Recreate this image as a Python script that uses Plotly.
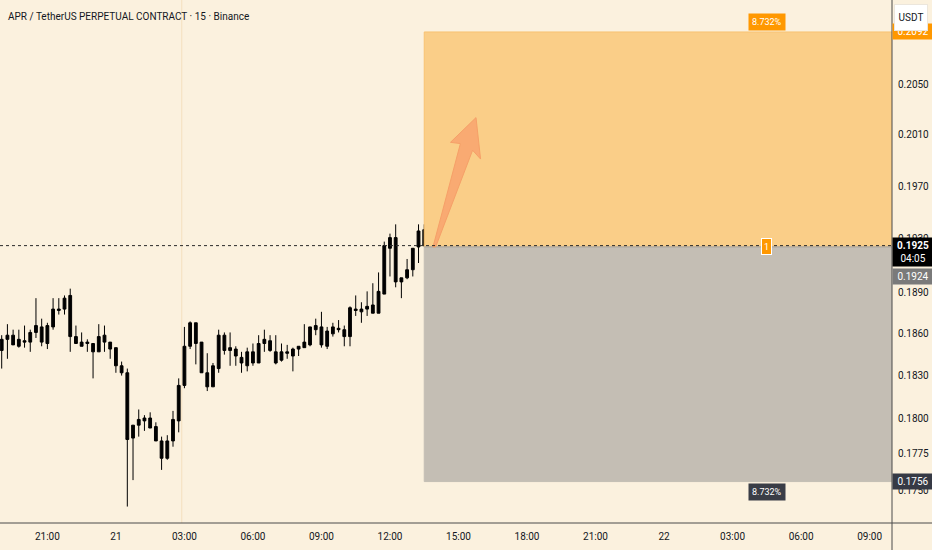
import numpy as np
import pandas as pd
import plotly.graph_objects as go

chart_title = "APR / TetherUS PERPETUAL CONTRACT · 15 · Binance"

# 15 minute candles, 20th 19:00 .. 21st 13:30
times = pd.date_range("2025-10-20 19:00", periods=75, freq="15min")
opens = [0.1848, 0.1856, 0.1859, 0.1851, 0.1855, 0.1854, 0.1861, 0.1865, 0.1853, 0.1865,
         0.1877, 0.1878, 0.1888, 0.1858, 0.1854, 0.1853, 0.1853, 0.1847, 0.1859, 0.1854,
         0.1850, 0.1837, 0.1832, 0.1786, 0.1795, 0.1798, 0.1800, 0.1794, 0.1784, 0.1772,
         0.1784, 0.1798, 0.1823, 0.1851, 0.1868, 0.1854, 0.1832, 0.1822, 0.1835, 0.1859,
         0.1848, 0.1849, 0.1843, 0.1837, 0.1847, 0.1839, 0.1853, 0.1855, 0.1847, 0.1841,
         0.1847, 0.1844, 0.1849, 0.1850, 0.1852, 0.1863, 0.1865, 0.1851, 0.1860, 0.1864,
         0.1863, 0.1858, 0.1878, 0.1876, 0.1878, 0.1881, 0.1875, 0.1889, 0.1923, 0.1931,
         0.1898, 0.1901, 0.1907, 0.1924, 0.1937]
highs = [0.1859, 0.1867, 0.1863, 0.1863, 0.1866, 0.1863, 0.1886, 0.1871, 0.1868, 0.1886,
         0.1886, 0.1888, 0.1893, 0.1866, 0.1861, 0.1856, 0.1853, 0.1867, 0.1866, 0.1854,
         0.1850, 0.1840, 0.1835, 0.1795, 0.1806, 0.1802, 0.1804, 0.1797, 0.1787, 0.1788,
         0.1805, 0.1828, 0.1865, 0.1869, 0.1868, 0.1854, 0.1846, 0.1839, 0.1863, 0.1861,
         0.1861, 0.1851, 0.1847, 0.1850, 0.1853, 0.1859, 0.1863, 0.1859, 0.1859, 0.1853,
         0.1852, 0.1850, 0.1851, 0.1867, 0.1865, 0.1871, 0.1876, 0.1865, 0.1868, 0.1870,
         0.1866, 0.1880, 0.1888, 0.1883, 0.1891, 0.1897, 0.1905, 0.1928, 0.1934, 0.1941,
         0.1901, 0.1915, 0.1923, 0.1941, 0.1941]
lows = [0.1835, 0.1842, 0.1852, 0.1850, 0.1850, 0.1847, 0.1857, 0.1851, 0.1849, 0.1863,
        0.1874, 0.1874, 0.1847, 0.1853, 0.1851, 0.1847, 0.1828, 0.1847, 0.1847, 0.1842,
        0.1832, 0.1830, 0.1739, 0.1757, 0.1787, 0.1791, 0.1793, 0.1784, 0.1764, 0.1771,
        0.1780, 0.1790, 0.1821, 0.1849, 0.1838, 0.1832, 0.1819, 0.1822, 0.1832, 0.1845,
        0.1837, 0.1837, 0.1832, 0.1833, 0.1837, 0.1839, 0.1847, 0.1847, 0.1838, 0.1840,
        0.1842, 0.1833, 0.1844, 0.1850, 0.1851, 0.1859, 0.1850, 0.1849, 0.1858, 0.1861,
        0.1851, 0.1851, 0.1873, 0.1868, 0.1873, 0.1875, 0.1875, 0.1889, 0.1902, 0.1894,
        0.1886, 0.1900, 0.1902, 0.1912, 0.1924]
closes = [0.1856, 0.1859, 0.1852, 0.1856, 0.1854, 0.1861, 0.1866, 0.1854, 0.1866, 0.1878,
          0.1878, 0.1886, 0.1858, 0.1853, 0.1851, 0.1854, 0.1847, 0.1858, 0.1854, 0.1849,
          0.1837, 0.1832, 0.1785, 0.1795, 0.1799, 0.1800, 0.1793, 0.1784, 0.1772, 0.1784,
          0.1799, 0.1823, 0.1851, 0.1868, 0.1853, 0.1832, 0.1822, 0.1837, 0.1859, 0.1848,
          0.1850, 0.1844, 0.1839, 0.1847, 0.1839, 0.1853, 0.1856, 0.1848, 0.1839, 0.1847,
          0.1846, 0.1849, 0.1851, 0.1854, 0.1865, 0.1866, 0.1852, 0.1862, 0.1865, 0.1863,
          0.1858, 0.1879, 0.1877, 0.1878, 0.1880, 0.1875, 0.1891, 0.1925, 0.1931, 0.1898,
          0.1901, 0.1907, 0.1923, 0.1936, 0.1925]

last_price = 0.1925
countdown = "04:05"

# long position tool
entry = 0.1924
target = 0.2092
stop = 0.1756
pos_start = "2025-10-21 13:30"
pos_end = "2025-10-22 19:30"
pos_mid = "2025-10-22 04:30"
pos_pct = "8.732%"

# hand drawn arrow (time, price)
arrow_t = ["2025-10-21 13:53", "2025-10-21 15:05", "2025-10-21 14:39", "2025-10-21 15:46",
           "2025-10-21 15:58", "2025-10-21 15:37", "2025-10-21 14:00"]
arrow_p = [0.1924, 0.2003, 0.2004, 0.20234, 0.1991, 0.19978, 0.1924]

session_line = "2025-10-21 02:53"

x_range = ["2025-10-20 18:55:32", "2025-10-22 09:58:50"]
x_ticks = ["2025-10-20 21:00", "2025-10-21 00:00", "2025-10-21 03:00", "2025-10-21 06:00",
           "2025-10-21 09:00", "2025-10-21 12:00", "2025-10-21 15:00", "2025-10-21 18:00",
           "2025-10-21 21:00", "2025-10-22 00:00", "2025-10-22 03:00", "2025-10-22 06:00",
           "2025-10-22 09:00"]
x_labels = ["21:00", "21", "03:00", "06:00", "09:00", "12:00", "15:00", "18:00",
            "21:00", "22", "03:00", "06:00", "09:00"]
y_ticks = [0.1750, 0.1775, 0.1800, 0.1830, 0.1860, 0.1890, 0.1930, 0.1970, 0.2010, 0.2050]
y_range = [0.17279, 0.21182]

BG = "#FBF1DE"
FONT = "Roboto, Liberation Sans, sans-serif"
TXT = "#131722"

fig = go.Figure()

# profit / loss zones
fig.add_trace(go.Scatter(
    x=[pos_start, pos_end, pos_end, pos_start, pos_start],
    y=[entry, entry, target, target, entry],
    fill="toself", fillcolor="#FACE88", mode="lines",
    line=dict(color="#F8C272", width=1), hoverinfo="skip"))
fig.add_trace(go.Scatter(
    x=[pos_start, pos_end, pos_end, pos_start, pos_start],
    y=[stop, stop, entry, entry, stop],
    fill="toself", fillcolor="#C4BEB4", mode="lines",
    line=dict(color="#C4BEB4", width=1), hoverinfo="skip"))
fig.add_trace(go.Scatter(
    x=[pos_start, pos_end], y=[entry, entry], mode="lines",
    line=dict(color="#A9A49C", width=1), hoverinfo="skip"))

fig.add_trace(go.Scatter(
    x=arrow_t + arrow_t[:1], y=arrow_p + arrow_p[:1],
    fill="toself", fillcolor="#F9AA72", mode="lines",
    line=dict(color="#F6A068", width=1), hoverinfo="skip"))

fig.add_trace(go.Candlestick(
    x=times, open=opens, high=highs, low=lows, close=closes,
    increasing=dict(fillcolor="#000000", line=dict(color="#000000", width=1)),
    decreasing=dict(fillcolor="#000000", line=dict(color="#000000", width=1)),
    whiskerwidth=0, hoverinfo="skip"))

fig.add_trace(go.Scatter(
    x=x_range, y=[last_price, last_price], mode="lines",
    line=dict(color="#2A2A2A", width=1, dash="dot"), hoverinfo="skip"))

fig.add_shape(type="line", xref="x", yref="paper", x0=session_line, x1=session_line,
              y0=0, y1=1, line=dict(color="#F4DFBE", width=1), layer="below")
# scale borders
fig.add_shape(type="line", xref="paper", yref="paper", x0=0, x1=1.05, y0=0, y1=0,
              line=dict(color="#4A4A4A", width=1))
fig.add_shape(type="line", xref="paper", yref="paper", x0=1, x1=1, y0=-0.06, y1=1,
              line=dict(color="#4A4A4A", width=1))

lab = dict(showarrow=False, font=dict(family=FONT, size=9, color="white"), borderpad=3)
fig.add_annotation(x=pos_mid, y=np.log10(target), yanchor="bottom", yshift=1,
                   text=pos_pct, bgcolor="#FF9800", **lab)
fig.add_annotation(x=pos_mid, y=np.log10(stop), yanchor="top", yshift=-1,
                   text=pos_pct, bgcolor="#3A3D46", **lab)
fig.add_annotation(x=pos_mid, y=np.log10(entry), text="1", bgcolor="#FF9800",
                   bordercolor="white", borderwidth=1, width=7, height=13,
                   showarrow=False, font=dict(family=FONT, size=9, color="white"),
                   borderpad=1)

# price scale labels
scale = dict(xref="paper", x=1, xanchor="left", showarrow=False, width=36, borderpad=2,
             font=dict(family=FONT, size=10, color="white"))
fig.add_annotation(y=np.log10(target), text=f"{target:.4f}", bgcolor="#FF9800",
                   xshift=0, **{k: v for k, v in scale.items()})
fig.add_annotation(y=np.log10(stop), text=f"{stop:.4f}", bgcolor="#363A45", **scale)
fig.add_annotation(y=np.log10(entry), yshift=-30, text=f"{entry:.4f}", bgcolor="#7A7A7A",
                   **scale)
fig.add_annotation(y=np.log10(last_price), yanchor="top", yshift=9,
                   text=f"<b>{last_price:.4f}</b><br>{countdown}", bgcolor="#000000", **scale)
# currency button sits over the target label
fig.add_annotation(xref="paper", yref="paper", x=1, xshift=19, y=1, yshift=-4,
                   xanchor="center", yanchor="top", text="USDT", showarrow=False,
                   width=26, height=19, bgcolor="white", bordercolor="#ECE6DC",
                   borderwidth=1, borderpad=3, font=dict(family=FONT, size=10, color=TXT))

fig.add_annotation(xref="paper", yref="paper", x=0, xshift=6, y=1, yshift=-9,
                   xanchor="left", yanchor="top", text=chart_title, showarrow=False,
                   font=dict(family=FONT, size=10, color=TXT))

fig.update_layout(
    width=932, height=550,
    margin=dict(l=0, r=40, t=0, b=27, pad=0),
    paper_bgcolor=BG, plot_bgcolor=BG,
    showlegend=False, hovermode=False,
    font=dict(family=FONT, size=10, color=TXT),
)
fig.update_xaxes(type="date", range=x_range, tickvals=x_ticks, ticktext=x_labels,
                 showgrid=False, zeroline=False, ticks="", rangeslider_visible=False,
                 tickfont=dict(size=10, color=TXT), ticklabelstandoff=6)
fig.update_yaxes(type="log", range=list(np.log10(y_range)), side="right",
                 tickvals=y_ticks, ticktext=[f"{v:.4f}" for v in y_ticks],
                 showgrid=False, zeroline=False, ticks="", ticklabelstandoff=5,
                 tickfont=dict(size=10, color=TXT))

fig.write_html("out.html", config={"displayModeBar": False},
               post_script="document.body.style.margin='0';"
                           "document.body.style.overflow='hidden';")
